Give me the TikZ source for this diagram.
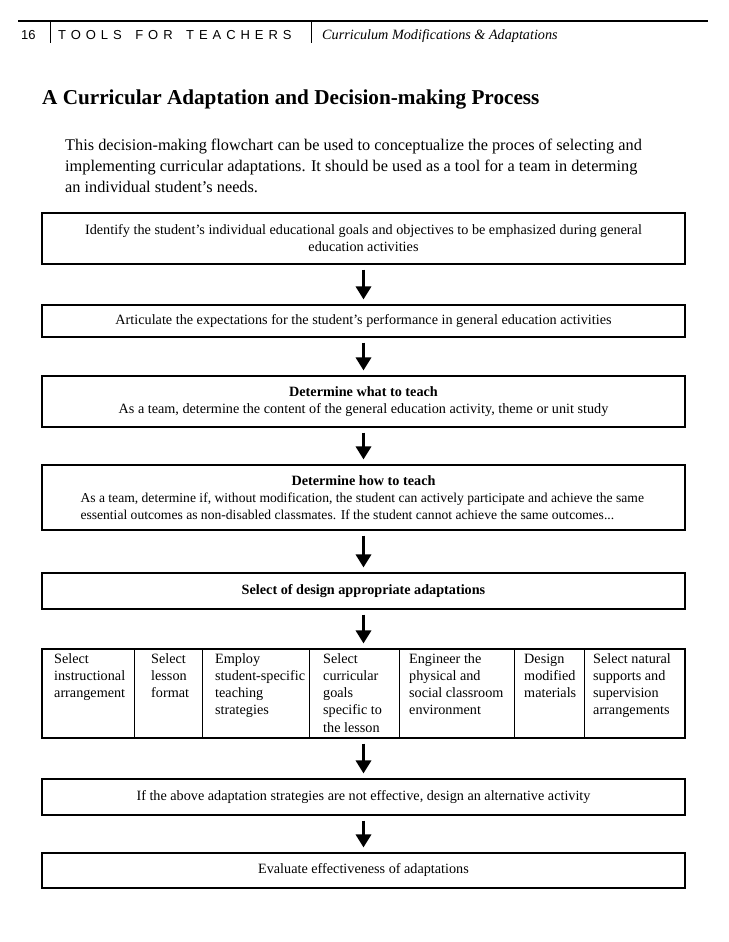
\documentclass[tikz,border=0pt]{standalone}
\usepackage{fontspec}
\setmainfont{Liberation Serif}
\newfontfamily\hdrsans[LetterSpace=38]{Liberation Sans}
\newfontfamily\numsans{Liberation Sans}
\usetikzlibrary{arrows.meta}
\begin{document}
\begin{tikzpicture}[x=1pt,y=-1pt,
  box/.style={draw, line width=1.1pt, minimum width=643pt, inner sep=0pt,
    font=\fontsize{14.2}{17}\selectfont, align=center},
  flow/.style={line width=3.5pt, -{Triangle[width=15pt,length=13pt]},
    shorten <=5pt, shorten >=5pt},
  txt/.style={inner sep=0pt, anchor=base west},
  ptxt/.style={txt, font=\fontsize{16.3}{20}\selectfont},
  celltxt/.style={inner sep=0pt, anchor=north west, align=left,
    font=\fontsize{14.2}{17.2}\selectfont},
  rule/.style={line width=1.1pt},
]
\useasboundingbox[fill=white] (0,0) rectangle (728,942);

% header
\draw[rule] (18,21) -- (708,21);
\draw[line width=0.8pt] (50,21) -- (50,43);
\draw[line width=0.8pt] (311,21) -- (311,43);
\node[txt, font=\numsans\fontsize{13}{13}\selectfont] (pg) at (21,40) {16};
\node[txt, font=\hdrsans\fontsize{13}{13}\selectfont] (tft) at (58,40) {TOOLS\hspace{5pt} FOR\hspace{5pt} TEACHERS};
\node[txt, font=\itshape\fontsize{14.2}{14.2}\selectfont] (sub) at (322,40) {Curriculum Modifications \& Adaptations};

% title and intro
\node[txt, font=\bfseries\fontsize{21.2}{22}\selectfont] (title) at (42,104) {A Curricular Adaptation and Decision-making Process};
\node[ptxt] (p1) at (65,150) {This decision-making flowchart can be used to conceptualize the proces of selecting and};
\node[ptxt] (p2) at (65,171) {implementing curricular adaptations. It should be used as a tool for a team in determing};
\node[ptxt] (p3) at (65,192) {an individual student’s needs.};

% flow boxes
\node[box, minimum height=51pt] (b1) at (363.5,238.5) {Identify the student’s individual educational goals and objectives to be emphasized during general\\education activities};
\node[box, minimum height=32pt] (b2) at (363.5,321) {Articulate the expectations for the student’s performance in general education activities};
\node[box, minimum height=51pt] (b3) at (363.5,401.5) {\textbf{Determine what to teach}\\As a team, determine the content of the general education activity, theme or unit study};
\node[box, minimum height=65pt, align=left, font=\fontsize{13.6}{17}\selectfont] (b4) at (363.5,497.5) {\makebox[566pt]{\fontsize{14.2}{17}\selectfont\bfseries Determine how to teach}\\As a team, determine if, without modification, the student can actively participate and achieve the same\\essential outcomes as non-disabled classmates. If the student cannot achieve the same outcomes...};
\node[box, minimum height=36pt] (b5) at (363.5,591) {\textbf{Select of design appropriate adaptations}};

% row of adaptations
\node[box, minimum height=89pt] (row) at (363.5,693.5) {};
\foreach \xx in {134,202,309,399,514,584} {
  \draw[line width=1pt] (\xx,649) -- (\xx,738);
}
\node[celltxt] (c1) at (54,651) {\strut Select\\instructional\\arrangement};
\node[celltxt] (c2) at (151,651) {\strut Select\\lesson\\format};
\node[celltxt] (c3) at (215,651) {\strut Employ\\student-specific\\teaching\\strategies};
\node[celltxt] (c4) at (323,651) {\strut Select\\curricular\\goals\\specific to\\the lesson};
\node[celltxt] (c5) at (409,651) {\strut Engineer the\\physical and\\social classroom\\environment};
\node[celltxt] (c6) at (524,651) {\strut Design\\modified\\materials};
\node[celltxt] (c7) at (593,651) {\strut Select natural\\supports and\\supervision\\arrangements};

\node[box, minimum height=36pt] (b7) at (363.5,797) {If the above adaptation strategies are not effective, design an alternative activity};
\node[box, minimum height=35pt] (b8) at (363.5,870.5) {Evaluate effectiveness of adaptations};

% connectors
\draw[flow] (b1) -- (b2);
\draw[flow] (b2) -- (b3);
\draw[flow] (b3) -- (b4);
\draw[flow] (b4) -- (b5);
\draw[flow] (b5) -- (row);
\draw[flow] (row) -- (b7);
\draw[flow] (b7) -- (b8);
\end{tikzpicture}
\end{document}
